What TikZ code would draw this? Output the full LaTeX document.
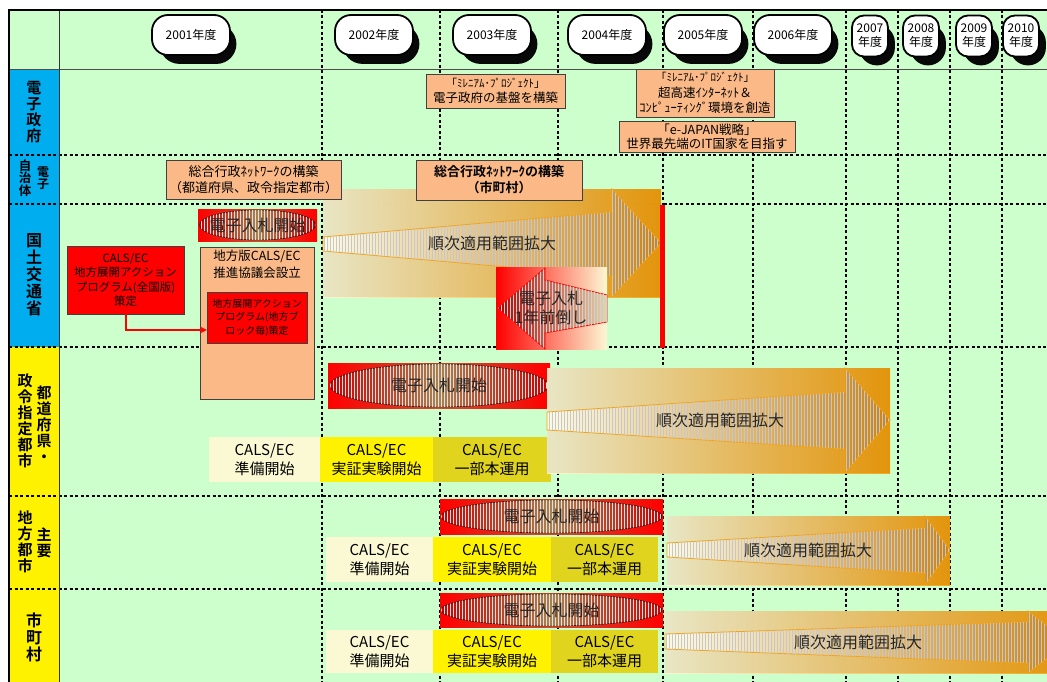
\documentclass[tikz,border=0pt]{standalone}
\usepackage{fontspec}
\setmainfont{Noto Sans CJK JP}[BoldFont={Noto Sans CJK JP Bold}]
\usetikzlibrary{shapes.geometric,patterns}

\definecolor{lawn}{HTML}{CCFFCC}
\definecolor{salmon}{HTML}{FAB987}
\definecolor{cream}{HTML}{FBF8D4}
\definecolor{mustard}{HTML}{E0D41E}
\definecolor{amber}{HTML}{F5A00C}
\definecolor{sand}{HTML}{A8824F}
\definecolor{rust}{HTML}{C9841A}
\definecolor{shadowink}{RGB}{8,8,8}

\begin{document}
\begin{tikzpicture}[x=1pt, y=-1pt,
    gridline/.style = {line width=1.3pt, dash pattern=on 3pt off 2.5pt},
    yearpill/.style = {draw, line width=1.8pt, fill=white, rounded corners=16pt,
      minimum width=78pt, minimum height=40pt, inner sep=1pt, align=center,
      font=\fontsize{12}{14}\selectfont},
    narrowpill/.style = {yearpill, minimum width=36pt, minimum height=41pt, rounded corners=12pt},
    rowlabel/.style = {align=center, inner sep=0pt, font=\bfseries\fontsize{15}{16}\selectfont},
    notebox/.style = {draw=black!75, fill=salmon, align=center, inner sep=1pt,
      font=\fontsize{12.5}{15}\selectfont},
    redbox/.style = {notebox, fill=red},
    stagebox/.style = {align=center, inner sep=0pt, minimum height=45pt,
      font=\fontsize{15}{19}\selectfont},
    bidband/.style = {inner sep=0pt, left color=red, right color=red, middle color=sand!60!red},
    bidoval/.style = {ellipse, draw=black, inner sep=0pt, left color=red!80!black,
      right color=red!80!black, middle color=sand,
      postaction={pattern=vertical lines, pattern color=black!12}},
    bidtext/.style = {font=\fontsize{16}{16}\selectfont, text=black!85},
    sweepback/.style = {left color=cream, right color=amber, fill opacity=0.92},
    sweeparrow/.style = {draw=amber, line width=0.8pt, left color=cream!60!white, right color=rust,
      postaction={pattern=vertical lines, pattern color=black!22}},
    sweeptext/.style = {font=\fontsize{16}{16}\selectfont, text=black!85}]

% The page, drawn in pixel units from the top left corner
\useasboundingbox (0,0) rectangle (1047,682);
\clip (0,0) rectangle (1047,682);
\fill[white] (0,0) rectangle (1047,682);
\fill[lawn] (9,10) rectangle (1047,682);
\fill[cyan] (9,69) rectangle (59,347);      % (national rows)
\fill[yellow] (9,347) rectangle (59,682);   % (local rows)

% Grid of rows and fiscal years
\foreach \y in {155,204,347,496,589}
  \draw[gridline] (9,\y) -- (1047,\y);
\foreach \x in {322,440,558,663,753,846,898,950,1002}
  \draw[gridline] (\x,10) -- (\x,682);
\draw[black!70, line width=0.8pt] (9,69) -- (1047,69);
\draw[black!80, line width=1pt] (59,10) -- (59,682);
\draw[line width=2.2pt] (9,682) -- (9,10) -- (1047,10);

% Fiscal years, each with its black shadow
\foreach \yr/\cx in {2001/191, 2002/374, 2003/492, 2004/607, 2005/703, 2006/793} {
  \draw[shadowink, fill=shadowink, line width=1.8pt] (\cx-11.5,25) -- (\cx+25.5,25)
    arc[start angle=90, end angle=-90, radius=19pt] -- (\cx-11.5,63)
    arc[start angle=270, end angle=90, radius=19pt] -- cycle;
  \node[yearpill] (fy\yr) at (\cx,35) {\yr{}年度};
}
\foreach \yr/\cx in {2007/870, 2008/921, 2009/974, 2010/1021} {
  \draw[shadowink, fill=shadowink, line width=1.8pt] (\cx+24,42.5)
    arc[start angle=0, end angle=180, radius=17pt] -- (\cx-10,47.5)
    arc[start angle=180, end angle=360, radius=17pt] -- cycle;
  \node[narrowpill] (fy\yr) at (\cx,36) {\yr\\年度};
}

% Row titles
\node[rowlabel] (rowGov) at (34,112) {電\\子\\政\\府};
\node[rowlabel, font=\bfseries\fontsize{12.5}{12.5}\selectfont] (rowLocalA) at (25,178) {自\\治\\体};
\node[rowlabel, font=\bfseries\fontsize{12}{12}\selectfont] (rowLocalB) at (43,178) {電\\子};
\node[rowlabel, font=\bfseries\fontsize{16}{17}\selectfont] (rowMlit) at (34,275) {国\\土\\交\\通\\省};
\node[rowlabel] (rowPrefA) at (44,424) {都\\道\\府\\県\\・};
\node[rowlabel] (rowPrefB) at (25,421) {政\\令\\指\\定\\都\\市};
\node[rowlabel] (rowCityA) at (44,543) {主\\要};
\node[rowlabel] (rowCityB) at (25,542) {地\\方\\都\\市};
\node[rowlabel, font=\bfseries\fontsize{16}{17}\selectfont] (rowTown) at (34,637) {市\\町\\村};

% Ministry row: rollout arrow
\fill[sweepback] (323,189) rectangle (661,297);
\path[sweeparrow] (323,237) -- (612,212) -- (612,189) -- (661,243) -- (612,297) -- (612,276) -- (323,251) -- cycle;
\node[sweeptext] (spreadMlit) at (492,243) {順次適用範囲拡大};

% E-government notes
\node[notebox, minimum width=139pt, minimum height=34pt] (milBase) at (495.5,91)
  {\fontsize{11}{13}\selectfont 「ﾐﾚﾆｱﾑ･ﾌﾟﾛｼﾞｪｸﾄ」\\\fontsize{12.5}{15}\selectfont 電子政府の基盤を構築};
\node[notebox, minimum width=138pt, minimum height=48pt, font=\fontsize{12.5}{15.5}\selectfont] (milNet) at (705,93)
  {\fontsize{11}{13}\selectfont 「ﾐﾚﾆｱﾑ･ﾌﾟﾛｼﾞｪｸﾄ」\\\fontsize{12.5}{15.5}\selectfont 超高速ｲﾝﾀｰﾈｯﾄ＆\\ｺﾝﾋﾟｭｰﾃｨﾝｸﾞ環境を創造};
\node[notebox, minimum width=176pt, minimum height=31pt, font=\fontsize{12.5}{14}\selectfont] (eJapan) at (707,136.5)
  {「e-JAPAN戦略」\\世界最先端のIT国家を目指す};
\node[notebox, minimum width=175pt, minimum height=39pt, font=\fontsize{13}{16}\selectfont] (netPref) at (253.5,179.5)
  {総合行政ﾈｯﾄﾜｰｸの構築\\（都道府県、政令指定都市）};
\node[notebox, minimum width=166pt, minimum height=40pt, font=\bfseries\fontsize{13}{16}\selectfont] (netTown) at (499,180)
  {総合行政ﾈｯﾄﾜｰｸの構築\\（市町村）};

% Ministry row
\node[bidband, minimum width=119pt, minimum height=32pt] (bandMlit) at (257.5,225) {};
\node[bidoval, minimum width=116pt, minimum height=30pt] (ovalMlit) at (bandMlit) {};
\node[bidtext] (bidMlit) at (bandMlit) {電子入札開始};
\node[redbox, minimum width=117pt, minimum height=68pt, font=\fontsize{11.5}{14.5}\selectfont] (calsNational) at (125.5,280)
  {CALS/EC\\地方展開アクション\\プログラム(全国版)\\策定};
\node[notebox, minimum width=114pt, minimum height=152pt] (council) at (257,323) {};
\node[font=\fontsize{12.5}{17}\selectfont, align=center, anchor=north, inner sep=0pt] (councilText)
  at ([yshift=-3pt]council.north) {地方版CALS/EC\\推進協議会設立};
\node[redbox, minimum width=100pt, minimum height=51pt, font=\fontsize{10}{13.5}\selectfont] (calsBlock) at (257,317.5)
  {地方展開アクション\\プログラム(地方ブ\\ロック毎)策定};
\coordinate (hook) at (0,330);
\draw[red, line width=2pt, >=stealth, ->] (calsNational.south) |- (calsBlock.west |- hook);

% Bidding one year earlier
\fill[left color=red, right color=cream] (496,267) rectangle (607,349);
\path[draw=red, line width=0.8pt, left color=red!70!black, right color=cream!70!sand,
  postaction={pattern=vertical lines, pattern color=black!18}]
  (498,308) -- (545,268) -- (545,280) -- (607,295) -- (607,322) -- (545,333) -- (545,349) -- cycle;
\node[font=\fontsize{16}{19}\selectfont, align=center, text=black!85] (earlyBid) at (551,308) {電子入札\\1年前倒し};
\draw[red, line width=5pt] (662,205) -- (662,348);

% Prefectures and designated cities
\node[bidband, minimum width=222pt, minimum height=45pt] (bandPref) at (439,385.5) {};
\node[bidoval, minimum width=218pt, minimum height=43pt] (ovalPref) at (bandPref) {};
\node[bidtext] (bidPref) at (bandPref) {電子入札開始};
\node[stagebox, fill=cream, minimum width=111pt] (prepPref) at (264.5,459.5) {CALS/EC\\準備開始};
\node[stagebox, fill=yellow, minimum width=113pt] (trialPref) at (376.5,459.5) {CALS/EC\\実証実験開始};
\node[stagebox, fill=mustard, minimum width=118pt] (livePref) at (492,459.5) {CALS/EC\\一部本運用};
\fill[sweepback] (547,368) rectangle (890,473);
\path[sweeparrow] (547,412) -- (845,392) -- (845,368) -- (890,420) -- (845,473) -- (845,449) -- (547,430) -- cycle;
\node[sweeptext] (spreadPref) at (720,420) {順次適用範囲拡大};

% Main regional cities
\node[bidband, minimum width=223pt, minimum height=35pt] (bandCity) at (551.5,516.5) {};
\node[bidoval, minimum width=221pt, minimum height=33pt] (ovalCity) at (bandCity) {};
\node[bidtext] (bidCity) at (bandCity) {電子入札開始};
\node[stagebox, fill=cream, minimum width=107pt] (prepCity) at (379.5,559.5) {CALS/EC\\準備開始};
\node[stagebox, fill=yellow, minimum width=118pt] (trialCity) at (492,559.5) {CALS/EC\\実証実験開始};
\node[stagebox, fill=mustard, minimum width=107pt] (liveCity) at (604.5,559.5) {CALS/EC\\一部本運用};
\fill[sweepback] (667,516) rectangle (950,585);
\path[sweeparrow] (667,543) -- (925,528) -- (925,516) -- (950,550) -- (925,585) -- (925,573) -- (667,557) -- cycle;
\node[sweeptext] (spreadCity) at (808,550) {順次適用範囲拡大};

% Towns and villages
\node[bidband, minimum width=223pt, minimum height=34pt] (bandTown) at (551.5,610) {};
\node[bidoval, minimum width=221pt, minimum height=32pt] (ovalTown) at (bandTown) {};
\node[bidtext] (bidTown) at (bandTown) {電子入札開始};
\node[stagebox, fill=cream, minimum width=107pt, minimum height=43pt] (prepTown) at (379.5,651.5) {CALS/EC\\準備開始};
\node[stagebox, fill=yellow, minimum width=118pt, minimum height=43pt] (trialTown) at (492,651.5) {CALS/EC\\実証実験開始};
\node[stagebox, fill=mustard, minimum width=107pt, minimum height=43pt] (liveTown) at (604.5,651.5) {CALS/EC\\一部本運用};
\fill[sweepback] (665,611) rectangle (1068,673);
\path[sweeparrow] (665,634) -- (1028,622) -- (1028,611) -- (1068,642) -- (1028,673) -- (1028,663) -- (665,649) -- cycle;
\node[sweeptext] (spreadTown) at (858,642) {順次適用範囲拡大};

\end{tikzpicture}
\end{document}
